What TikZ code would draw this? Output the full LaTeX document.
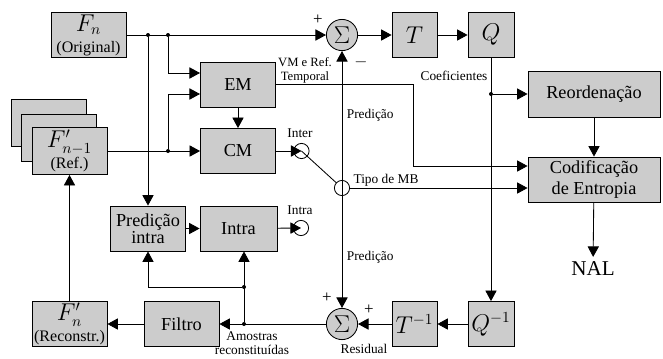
\documentclass[tikz,border=0pt]{standalone}
\usepackage{fontspec}
\setmainfont{Liberation Serif}
\usetikzlibrary{arrows.meta}
\newcommand{\subfont}{\fontsize{11.4}{12}\selectfont}
\newcommand{\mathfont}{\fontsize{16}{17}\selectfont}

\begin{document}
\begin{tikzpicture}[x=0.025cm, y=-0.025cm, line width=0.6pt,
                    blk/.style={draw, fill=gray!40, minimum width=1.875cm, minimum height=1.125cm,
                                align=center, inner sep=1pt, font=\fontsize{13}{15}\selectfont},
                    sum/.style={draw, circle, fill=gray!40, minimum size=0.78cm, inner sep=0pt,
                                font=\fontsize{17}{17}\selectfont},
                    sw/.style={draw, circle, minimum size=0.38cm, inner sep=0pt},
                    dot/.style={circle, fill, inner sep=0pt, minimum size=0.1cm},
                    lbl/.style={font=\fontsize{9.5}{11}\selectfont, inner sep=1pt},
                    arr/.style={-{Triangle[length=7.5pt, width=8pt]}}
                    ]

                    \useasboundingbox (0,0) rectangle (663,358);

                    % blocos
                    \node[blk] (Fn) at (88.5,35) {{\mathfont$F_n$}\\[0pt]{\subfont (Original)}};
                    \node[blk] (EM) at (238,84.5) {EM};
                    \node[blk] (CM) at (238,151) {CM};
                    \node[blk, minimum width=1.125cm] (T) at (414.5,35) {\mathfont$T$};
                    \node[blk, minimum width=1.15cm] (Q) at (491,35) {\mathfont$Q$};
                    \node[blk, minimum width=3.3cm, minimum height=1.15cm] (Reord) at (594,94) {Reordenação};
                    \node[blk, minimum width=3.3cm] (Cod) at (594,179.5) {Codificação\\de Entropia};
                    \node[blk, minimum height=1.175cm] (Fb2) at (48.5,123) {};
                    \node[blk, minimum height=1.175cm] (Fb1) at (59,137.5) {};
                    \node[blk, minimum height=1.175cm] (Fref) at (69.5,151) {{\mathfont$F'_{n-1}$}\\[0pt]{\subfont (Ref.)}};
                    \node[blk] (PI) at (148,228.5) {Predição\\[-3pt]intra};
                    \node[blk, minimum width=1.925cm] (Intra) at (238.5,228.5) {Intra};
                    \node[blk] (Filtro) at (181.5,324) {Filtro};
                    \node[blk] (Frec) at (69.5,324) {{\mathfont$F'_n$}\\[0pt]{\subfont (Reconstr.)}};
                    \node[blk, minimum width=1.125cm] (Tinv) at (414.5,324) {\mathfont$T^{-1}$};
                    \node[blk, minimum width=1.15cm] (Qinv) at (491,324) {\mathfont$Q^{-1}$};
                    \node[sum] (S1) at (342,35) {$\Sigma$};
                    \node[sum] (S2) at (342,324) {$\Sigma$};
                    \node[sw] (inter) at (301.5,151) {};
                    \node[sw] (intra) at (301,228) {};
                    \node[sw] (mb) at (342,188) {};
                    \node[font=\fontsize{15}{16}\selectfont] (NAL) at (593,269) {NAL};

                    % pontos e cantos
                    \node[dot] (d1) at (148,35) {};
                    \node[dot] (d2) at (168,35) {};
                    \node[dot] (d3) at (168,151) {};
                    \node[dot] (coef) at (491,94) {};
                    \node[dot] (rec) at (244,324) {};
                    \node[dot] (rec2) at (244,287) {};
                    \coordinate (em1) at (200,73);
                    \coordinate (em2) at (200,94);
                    \coordinate (vm) at (413,166);

                    % ligacoes
                    \foreach \i/\j in {Fn/S1,S1/T,T/Q,Q/Qinv,Qinv/Tinv,Tinv/S2,S2/Filtro,Filtro/Frec,
                                       Frec/Fref,Fref/CM,EM/CM,PI/Intra,coef/Reord,Reord/Cod,Cod/NAL}{
                        \draw[arr] (\i) -- (\j);
                    }
                    \draw[arr] (d2) |- (em1);
                    \draw[arr] (d3) |- (em2);
                    \draw[arr] (d1) -- (PI);
                    \draw[arr] (rec) -- (rec |- Intra.south);
                    \draw[arr] (rec2) -| (PI);
                    \draw[arr] (CM) -- (inter.center);
                    \draw[arr] (Intra) -- (intra.center);
                    \draw (inter.center) -- (mb);
                    \draw[arr] (mb.center) -- (S1);
                    \draw[arr] (mb.center) -- (S2);
                    \draw[arr] (mb) -- (mb -| Cod.west);
                    \draw[arr] (EM.east) -| (vm) -- (vm -| Cod.west);

                    % rotulos
                    \node[lbl, font=\fontsize{12}{12}\selectfont] (p1) at (318,20) {+};
                    \node[lbl, font=\fontsize{12}{12}\selectfont] (m1) at (361,62) {$-$};
                    \node[lbl, font=\fontsize{12}{12}\selectfont] (p2) at (327,298) {+};
                    \node[lbl, font=\fontsize{12}{12}\selectfont] (p3) at (369,310) {+};
                    \node[lbl, align=center, font=\fontsize{9}{10}\selectfont] (lvm) at (305,70) {VM e Ref.\\Temporal};
                    \node[lbl] (linter) at (300,133) {Inter};
                    \node[lbl] (lintra) at (300,210) {Intra};
                    \node[lbl, anchor=west] (lp1) at (345,115) {Predição};
                    \node[lbl, anchor=west] (lp2) at (345,257) {Predição};
                    \node[lbl] (lmb) at (386,180) {Tipo de MB};
                    \node[lbl] (lcoef) at (454,76) {Coeficientes};
                    \node[lbl, align=center, font=\fontsize{9.5}{9.5}\selectfont] (lam) at (252,343) {Amostras\\reconstituídas};
                    \node[lbl] (lres) at (364,349) {Residual};

                \end{tikzpicture}
\end{document}
